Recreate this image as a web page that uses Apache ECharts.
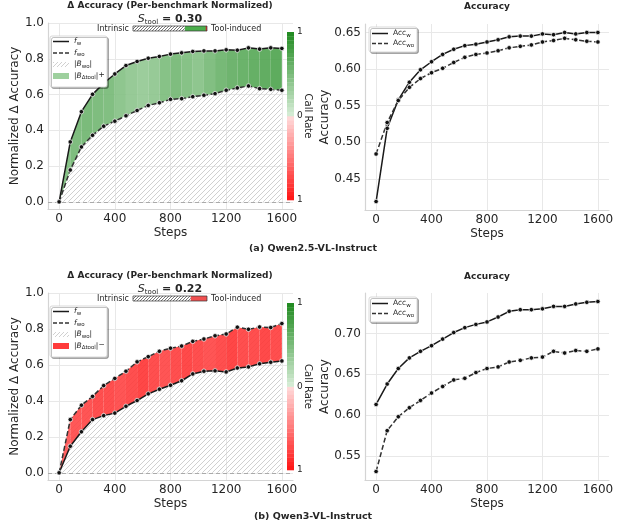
<!DOCTYPE html>
<html>
<head>
<meta charset="utf-8">
<script src="https://cdn.jsdelivr.net/npm/echarts@6/dist/echarts.min.js"></script>
<style>html,body{margin:0;padding:0;background:#fff}#main{width:622px;height:527px}</style>
</head>
<body>
<div id="main"></div>
<script>
// training steps
const steps = [0,80,160,240,320,400,480,560,640,720,800,880,960,1040,1120,1200,1280,1360,1440,1520,1600];

// (a) Qwen2.5-VL-Instruct
const qwen25Fw  = [0,0.335,0.504,0.601,0.663,0.715,0.762,0.785,0.803,0.813,0.826,0.833,0.841,0.844,0.844,0.850,0.848,0.861,0.854,0.861,0.858];
const qwen25Fwo = [0,0.178,0.307,0.372,0.423,0.451,0.481,0.511,0.539,0.554,0.573,0.577,0.588,0.596,0.605,0.624,0.637,0.648,0.633,0.629,0.624];
const qwen25Call = [0.55,0.6,0.62,0.6,0.58,0.5,0.45,0.42,0.45,0.55,0.6,0.55,0.5,0.58,0.65,0.7,0.72,0.75,0.78,0.8];
const qwen25AccW  = [0.419,0.519,0.558,0.582,0.599,0.610,0.620,0.627,0.632,0.634,0.637,0.640,0.644,0.645,0.645,0.648,0.647,0.650,0.648,0.650,0.650];
const qwen25AccWo = [0.484,0.527,0.557,0.575,0.587,0.595,0.601,0.609,0.616,0.620,0.622,0.625,0.629,0.631,0.633,0.637,0.639,0.642,0.640,0.638,0.637];
const qwen25STool = 0.30;

// (b) Qwen3-VL-Instruct
const qwen3Fw  = [0,0.148,0.228,0.296,0.318,0.332,0.370,0.402,0.439,0.465,0.487,0.512,0.550,0.565,0.567,0.561,0.583,0.589,0.606,0.615,0.622];
const qwen3Fwo = [0,0.296,0.376,0.425,0.485,0.525,0.565,0.617,0.646,0.676,0.693,0.705,0.731,0.744,0.762,0.772,0.810,0.798,0.811,0.808,0.830];
const qwen3Call = [0.75,0.8,0.82,0.85,0.85,0.82,0.85,0.9,0.85,0.82,0.85,0.88,0.85,0.82,0.85,0.9,0.85,0.85,0.88,0.85];
const qwen3AccW  = [0.613,0.638,0.657,0.670,0.678,0.685,0.693,0.701,0.707,0.711,0.714,0.720,0.727,0.729,0.729,0.730,0.733,0.733,0.736,0.738,0.739];
const qwen3AccWo = [0.531,0.581,0.598,0.609,0.618,0.627,0.635,0.643,0.645,0.652,0.657,0.659,0.665,0.667,0.670,0.671,0.678,0.676,0.679,0.678,0.681];
const qwen3STool = 0.22;

const xTicks = [0,400,800,1200,1600];
const deltaTicks = [0,0.2,0.4,0.6,0.8,1.0];
const acc25Ticks = [0.45,0.5,0.55,0.6,0.65];
const acc3Ticks = [0.55,0.6,0.65,0.7];

const FONT = 'DejaVu Sans';
const TXT = '#262626';

function hatchCanvas(color, bg, step, lw) {
    const c = document.createElement('canvas');
    c.width = step; c.height = step;
    const g = c.getContext('2d');
    if (bg) { g.fillStyle = bg; g.fillRect(0, 0, step, step); }
    g.strokeStyle = color; g.lineWidth = lw;
    g.beginPath();
    g.moveTo(0, step); g.lineTo(step, 0);
    g.moveTo(-1, 1); g.lineTo(1, -1);
    g.moveTo(step - 1, step + 1); g.lineTo(step + 1, step - 1);
    g.stroke();
    return c;
}
const hatchArea = {image: hatchCanvas('#c4c4c4', null, 5, 0.8), repeat: 'repeat'};
const hatchBar = {image: hatchCanvas('#555', '#fff', 3, 0.8), repeat: 'repeat'};
const hatchLegend = {image: hatchCanvas('#c4c4c4', '#fff', 4, 0.8), repeat: 'repeat'};

function greenAt(c, a) {
    return 'rgba(' + Math.round(220 - 185 * c) + ',' + Math.round(240 - 100 * c) + ',' + Math.round(220 - 185 * c) + ',' + a + ')';
}
function redAt(c, a) {
    const g = Math.round(225 - 200 * c);
    return 'rgba(255,' + g + ',' + g + ',' + a + ')';
}

function xAx(gi) {
    return {
        type: 'value', gridIndex: gi, min: -80, max: 1680,
        name: 'Steps', nameLocation: 'middle', nameGap: 18,
        nameTextStyle: {fontSize: 12, color: TXT, fontFamily: FONT},
        axisLine: {show: true, onZero: false, lineStyle: {color: '#d4d4d4', width: 1.2}},
        axisTick: {show: false, customValues: xTicks},
        axisLabel: {customValues: xTicks, fontSize: 12, color: TXT, margin: 4, fontFamily: FONT,
            formatter: v => String(v)},
        splitLine: {show: true, lineStyle: {color: '#e8e8e8', width: 1}}
    };
}
function yAx(gi, min, max, ticks, digits, name, gap) {
    return {
        type: 'value', gridIndex: gi, min: min, max: max,
        name: name, nameLocation: 'middle', nameGap: gap,
        nameTextStyle: {fontSize: 12, color: TXT, fontFamily: FONT},
        axisLine: {show: true, onZero: false, lineStyle: {color: '#d4d4d4', width: 1.2}},
        axisTick: {show: false, customValues: ticks},
        axisLabel: {customValues: ticks, fontSize: 12, color: TXT, margin: 4, fontFamily: FONT,
            formatter: v => v.toFixed(digits)},
        splitLine: {show: true, lineStyle: {color: '#e8e8e8', width: 1}}
    };
}

function lineSeries(xi, ys, dashed) {
    return {
        type: 'line', xAxisIndex: xi, yAxisIndex: xi, z: 5,
        data: steps.map((s, i) => [s, ys[i]]),
        symbol: 'circle', symbolSize: 4.5, clip: false,
        lineStyle: {color: dashed ? '#333' : '#1a1a1a', width: 1.5, type: dashed ? [5, 2.5] : 'solid'},
        itemStyle: {color: '#111', borderColor: '#fff', borderWidth: 0.7},
        emphasis: {disabled: true}
    };
}
function hatchSeries(xi, fwo) {
    return {
        type: 'line', xAxisIndex: xi, yAxisIndex: xi, z: 1,
        data: steps.map((s, i) => [s, fwo[i]]),
        symbol: 'none', lineStyle: {width: 0},
        areaStyle: {color: hatchArea, opacity: 1},
        markLine: {silent: true, symbol: 'none', label: {show: false},
            lineStyle: {color: '#aaa', type: [4, 3], width: 1}, data: [{yAxis: 0}]},
        emphasis: {disabled: true}
    };
}
function bandSeries(xi, fw, fwo, call, ramp) {
    return {
        type: 'custom', xAxisIndex: xi, yAxisIndex: xi, z: 3, silent: true,
        data: call.map((c, i) => [steps[i], fw[i], i]),
        renderItem: function (params, api) {
            const i = api.value(2);
            const pts = [
                api.coord([steps[i], fw[i]]), api.coord([steps[i + 1], fw[i + 1]]),
                api.coord([steps[i + 1], fwo[i + 1]]), api.coord([steps[i], fwo[i]])
            ];
            return {type: 'polygon', shape: {points: pts}, style: {fill: ramp(call[i], 0.88)}};
        }
    };
}

// ---- graphic helpers (titles, legends, colorbars) ----
function txt(x, y, text, font, align, extra) {
    return Object.assign({type: 'text', x: x, y: y, z: 100,
        style: {text: text, font: font, fill: TXT, textAlign: align || 'center', textVerticalAlign: 'middle'}}, extra || {});
}
function rich(x, y, text, richStyle, align) {
    return {type: 'text', x: x, y: y, z: 100,
        style: {text: text, rich: richStyle, fill: TXT, textAlign: align || 'left', textVerticalAlign: 'middle'}};
}
const subRich = {
    m: {fontSize: 7.5, fontFamily: FONT, lineHeight: 10, fill: TXT},
    i: {fontSize: 7.5, fontFamily: FONT, fontStyle: 'italic', lineHeight: 10, fill: TXT},
    sub: {fontSize: 5.5, fontFamily: FONT, lineHeight: 5, verticalAlign: 'bottom', fill: TXT},
    sup: {fontSize: 7.5, fontFamily: FONT, lineHeight: 7, verticalAlign: 'top', fill: TXT}
};

function deltaPanelDeco(y0, sTool, positive, cbTop, cbBot) {
    const g = [];
    g.push(txt(170, y0 + 6, 'Δ Accuracy (Per-benchmark Normalized)', 'bold 9px ' + FONT));
    g.push(rich(170, y0 + 19, '{s|S}{sub|tool}{b| = ' + sTool.toFixed(2) + '}', {
        s: {fontSize: 11, fontFamily: FONT, fontStyle: 'italic', lineHeight: 14, fill: TXT},
        sub: {fontSize: 7, fontFamily: FONT, lineHeight: 7, verticalAlign: 'bottom', fill: TXT},
        b: {fontSize: 11, fontFamily: FONT, fontWeight: 'bold', lineHeight: 14, fill: TXT}
    }, 'center'));
    // intrinsic / tool-induced bar
    const bx = 133, bw = 74, by = y0 + 26, bh = 5;
    const hw = (1 - sTool) * bw;
    g.push(txt(129, by + bh / 2, 'Intrinsic', '8px ' + FONT, 'right'));
    g.push(txt(211, by + bh / 2, 'Tool-induced', '8px ' + FONT, 'left'));
    g.push({type: 'rect', z: 100, shape: {x: bx, y: by, width: hw, height: bh}, style: {fill: hatchBar}});
    g.push({type: 'rect', z: 100, shape: {x: bx + hw, y: by, width: bw - hw, height: bh},
        style: {fill: positive ? '#4cae4c' : '#f05050'}});
    if (positive) {
        g.push({type: 'rect', z: 100, shape: {x: bx + bw - 1.3, y: by, width: 1.3, height: bh}, style: {fill: '#e03030'}});
    }
    g.push({type: 'rect', z: 101, shape: {x: bx, y: by, width: bw, height: bh},
        style: {fill: null, stroke: '#333', lineWidth: 0.7}});
    // legend
    const lx = 50, ly = y0 + 36;
    g.push({type: 'rect', z: 100, shape: {x: lx, y: ly, width: 57, height: 51, r: 2},
        style: {fill: '#fff', stroke: '#cfcfcf', lineWidth: 0.8, shadowColor: 'rgba(0,0,0,0.3)', shadowOffsetX: 1.5, shadowOffsetY: 1.5}});
    const ey = [ly + 5.5, ly + 17, ly + 28.5, ly + 40];
    g.push({type: 'line', z: 101, shape: {x1: 53, y1: ey[0], x2: 69, y2: ey[0]}, style: {stroke: '#1a1a1a', lineWidth: 1.5}});
    g.push({type: 'line', z: 101, shape: {x1: 53, y1: ey[1], x2: 69, y2: ey[1]}, style: {stroke: '#333', lineWidth: 1.5, lineDash: [4, 2]}});
    g.push({type: 'rect', z: 101, shape: {x: 53, y: ey[2] - 2.5, width: 16, height: 5}, style: {fill: hatchLegend}});
    g.push({type: 'rect', z: 101, shape: {x: 53, y: ey[3] - 3, width: 16, height: 6},
        style: {fill: positive ? '#9ed09e' : '#ff3b3b'}});
    g.push(Object.assign(rich(74, ey[0], '{i|f}{sub|w}', subRich), {z: 102}));
    g.push(Object.assign(rich(74, ey[1], '{i|f}{sub|wo}', subRich), {z: 102}));
    g.push(Object.assign(rich(74, ey[2], '{m||}{i|B}{sub|wo}{m||}', subRich), {z: 102}));
    g.push(Object.assign(rich(74, ey[3], '{m||}{i|B}{sub|Δtool}{m||}{sup|' + (positive ? '+' : '−') + '}', subRich), {z: 102}));
    // colorbar
    const cx = 287, cw = 7, n = 20;
    const mid = (cbTop + cbBot) / 2, hh = (cbBot - cbTop) / 2;
    for (let k = 0; k < n; k++) {
        const c = 1 - k / n;
        g.push({type: 'rect', z: 90, shape: {x: cx, y: cbTop + k * hh / n, width: cw, height: hh / n + 0.3},
            style: {fill: greenAt(c, 1)}});
        g.push({type: 'rect', z: 90, shape: {x: cx, y: mid + k * hh / n, width: cw, height: hh / n + 0.3},
            style: {fill: redAt((k + 1) / n, 1)}});
    }
    g.push(txt(297, cbTop, '1', '9px ' + FONT, 'left'));
    g.push(txt(297, mid, '0', '9px ' + FONT, 'left'));
    g.push(txt(297, cbBot, '1', '9px ' + FONT, 'left'));
    g.push(txt(308, mid, 'Call Rate', '10px ' + FONT, 'center', {rotation: -Math.PI / 2}));
    return g;
}
function accPanelDeco(y0, boxTop) {
    const g = [];
    g.push(txt(487, y0 + 7, 'Accuracy', 'bold 9px ' + FONT));
    g.push({type: 'rect', z: 100, shape: {x: 369, y: boxTop, width: 48, height: 25, r: 2},
        style: {fill: '#fff', stroke: '#cfcfcf', lineWidth: 0.8, shadowColor: 'rgba(0,0,0,0.3)', shadowOffsetX: 1.5, shadowOffsetY: 1.5}});
    const e1 = boxTop + 6.5, e2 = boxTop + 16.5;
    g.push({type: 'line', z: 101, shape: {x1: 372, y1: e1, x2: 388, y2: e1}, style: {stroke: '#1a1a1a', lineWidth: 1.5}});
    g.push({type: 'line', z: 101, shape: {x1: 372, y1: e2, x2: 388, y2: e2}, style: {stroke: '#333', lineWidth: 1.5, lineDash: [4, 2]}});
    g.push(Object.assign(rich(393, e1, '{m|Acc}{sub|w}', subRich), {z: 102}));
    g.push(Object.assign(rich(393, e2, '{m|Acc}{sub|wo}', subRich), {z: 102}));
    return g;
}

function accRange(a, b) {
    const lo = Math.min(...a, ...b), hi = Math.max(...a, ...b), m = (hi - lo) * 0.05;
    return [lo - m, hi + m];
}
const r25 = accRange(qwen25AccW, qwen25AccWo);
const r3 = accRange(qwen3AccW, qwen3AccWo);

const chart = echarts.init(document.getElementById('main'));
chart.setOption({
    animation: false,
    backgroundColor: '#fff',
    textStyle: {fontFamily: FONT},
    grid: [
        {left: 48, top: 23, width: 245, height: 186},
        {left: 365, top: 24, width: 244, height: 186},
        {left: 48, top: 293, width: 245, height: 187},
        {left: 365, top: 293, width: 244, height: 187}
    ],
    xAxis: [xAx(0), xAx(1), xAx(2), xAx(3)],
    yAxis: [
        yAx(0, -0.04, 1.0, deltaTicks, 1, 'Normalized Δ Accuracy', 25),
        yAx(1, r25[0], r25[1], acc25Ticks, 2, 'Accuracy', 32),
        yAx(2, -0.04, 1.0, deltaTicks, 1, 'Normalized Δ Accuracy', 25),
        yAx(3, r3[0], r3[1], acc3Ticks, 2, 'Accuracy', 32)
    ],
    series: [
        hatchSeries(0, qwen25Fwo),
        bandSeries(0, qwen25Fw, qwen25Fwo, qwen25Call, greenAt),
        lineSeries(0, qwen25Fw, false),
        lineSeries(0, qwen25Fwo, true),
        lineSeries(1, qwen25AccW, false),
        lineSeries(1, qwen25AccWo, true),
        hatchSeries(2, qwen3Fwo),
        bandSeries(2, qwen3Fw, qwen3Fwo, qwen3Call, redAt),
        lineSeries(2, qwen3Fw, false),
        lineSeries(2, qwen3Fwo, true),
        lineSeries(3, qwen3AccW, false),
        lineSeries(3, qwen3AccWo, true)
    ],
    graphic: [].concat(
        deltaPanelDeco(0, qwen25STool, true, 32, 200),
        accPanelDeco(0, 27),
        deltaPanelDeco(270, qwen3STool, false, 303, 470),
        accPanelDeco(270, 297),
        [txt(313, 249, '(a) Qwen2.5-VL-Instruct', 'bold 9.5px ' + FONT),
         txt(313, 517, '(b) Qwen3-VL-Instruct', 'bold 9.5px ' + FONT)]
    )
});
</script>
</body>
</html>
